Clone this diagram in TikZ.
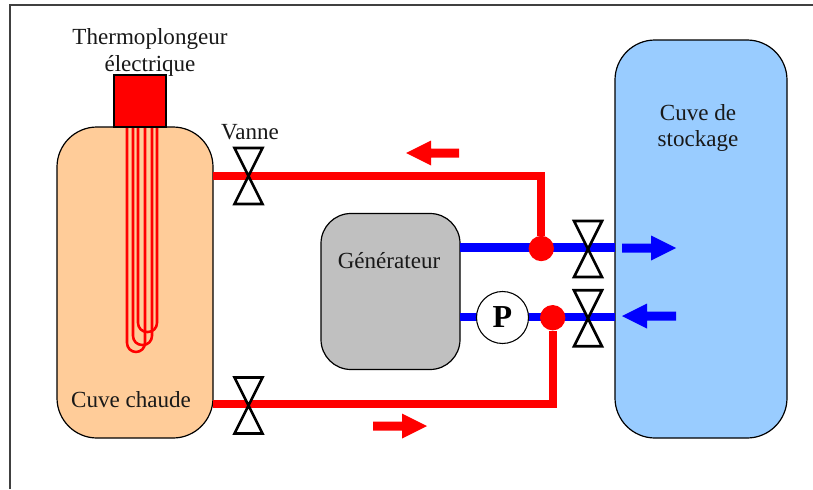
\documentclass[tikz,border=0pt]{standalone}
\usepackage{fontspec}
\setmainfont{Liberation Serif}
\usetikzlibrary{calc}
\definecolor{peach}{HTML}{FFCC99}
\definecolor{sky}{HTML}{99CCFF}
\definecolor{gen}{HTML}{C0C0C0}
\definecolor{framec}{HTML}{404040}
\tikzset{
  x=0.75pt,y=-0.75pt,
  tank/.style={draw=black,line width=0.9pt,rounded corners=#1,inner sep=0pt,outer sep=0pt},
  lbl/.style={font=\fontsize{17.3}{20.2}\selectfont,align=center,inner sep=0pt,text=black!90},
  redpipe/.style={draw=red,line width=6pt},
  bluepipe/.style={draw=blue,line width=6.5pt},
  valvebody/.style={draw=black,line width=2pt,fill=white,miter limit=10},
  dot/.style={circle,fill=red,inner sep=0pt,minimum size=19pt},
  coil/.style={draw=red,line width=1.9pt,rounded corners=6.8pt},
}
\newcommand{\valve}[3]{%
  \coordinate (#1) at (#2,#3);
  \draw[valvebody] ($(#1)+(-14,-28)$) -- ($(#1)+(14,-28)$) -- ($(#1)+(-14,28)$) -- ($(#1)+(14,28)$) -- cycle;
}
\newcommand{\flowarrow}[5]{%
  \fill[#5] (#1,#2-4.5) -- (#4,#2-4.5) -- (#4,#2-12.5) -- (#3,#2) -- (#4,#2+12.5) -- (#4,#2+4.5) -- (#1,#2+4.5) -- cycle;
}
\begin{document}
\begin{tikzpicture}
\useasboundingbox (0,0) rectangle (813,489);
\fill[white] (0,0) rectangle (813,489);
\draw[framec,line width=1.2pt] (10,489) -- (10,5) -- (813,5);

% tanks
\node[tank=30pt,fill=peach,minimum width=117pt,minimum height=233.25pt] (hot) at (135,282.5) {};
\node[tank=30pt,fill=sky,minimum width=129pt,minimum height=298.5pt] (store) at (701,239) {};
\node[tank=22.5pt,fill=gen,minimum width=104.25pt,minimum height=117pt] (generator) at (390.5,291.5) {};

% heater coils
\draw[coil] (127,127) -- (127,352) -- (145,352) -- (145,127);
\draw[coil] (133,127) -- (133,345) -- (152,345) -- (152,127);
\draw[coil] (138,127) -- (138,332) -- (157,332) -- (157,127);
\node[draw=black,fill=red,line width=0.9pt,minimum size=39pt,inner sep=0pt,outer sep=0pt] (heater) at (140,101) {};

% pipes
\draw[bluepipe] (generator.east |- 0,247.7) -- (store.west |- 0,247.7);
\draw[bluepipe] (generator.east |- 0,317) -- (store.west |- 0,317);
\node[dot] (j1) at (541.3,248.5) {};
\node[dot] (j2) at (552.7,317.7) {};
\draw[redpipe] (hot.east |- 0,176) -- (541.3,176) -- (j1);
\draw[redpipe] (hot.east |- 0,403.5) -- (552.7,403.5) -- (j2);

\node[circle,draw=black,fill=white,line width=0.8pt,minimum size=39pt,inner sep=0pt,font=\bfseries\fontsize{24}{24}\selectfont] (pump) at (502.5,317.5) {P};

% valves
\valve{v1}{248.5}{176}
\valve{v2}{248.5}{405.5}
\valve{v3}{588}{249}
\valve{v4}{588}{318.3}

% flow arrows
\flowarrow{459}{153}{406}{431}{red}
\flowarrow{373}{426}{427}{402}{red}
\flowarrow{622}{248}{676}{651}{blue}
\flowarrow{676}{316}{622}{647}{blue}

% labels
\node[lbl] (t1) at (150,52) {Thermoplongeur\\électrique};
\node[lbl] (t2) at (250,132) {Vanne};
\node[lbl] (t3) at (131,400) {Cuve chaude};
\node[lbl] (t4) at (389,261) {Générateur};
\node[lbl] (t5) at (698,128) {Cuve de\\stockage};
\end{tikzpicture}
\end{document}
